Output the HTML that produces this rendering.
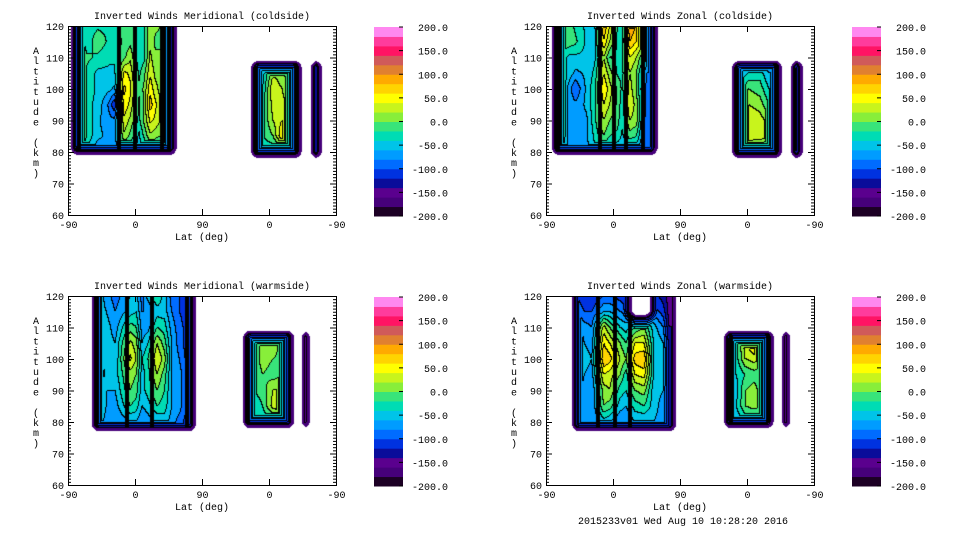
<!DOCTYPE html>
<html><head><meta charset="utf-8">
<style>
html,body{margin:0;padding:0;background:#fff;}
#wrap{position:relative;width:960px;height:540px;overflow:hidden;background:#fff;}
canvas{position:absolute;}
svg{position:absolute;left:0;top:0;}
text{font-family:"Liberation Mono",monospace;font-size:10px;fill:#000;}
</style></head>
<body>
<div id="wrap">
<canvas id="c1" width="268" height="189" style="left:68px;top:26px"></canvas>
<canvas id="c2" width="268" height="189" style="left:546px;top:26px"></canvas>
<canvas id="c3" width="268" height="189" style="left:68px;top:296px"></canvas>
<canvas id="c4" width="268" height="189" style="left:546px;top:296px"></canvas>
<svg id="ov" width="960" height="540"></svg>
</div>
<script>
// ---- data ----
const levelColors = ["#1c0024","#46007a","#5a008e","#0a0c9a","#0032e0","#006cff","#009cff","#00c4e8","#00dcb4","#38e47a","#88ee3a","#c8f41c","#ffff00","#ffd400","#ffaa00","#e08030","#d05a5a","#ff1464","#ff3c9c","#ff88f0"];
const cbarLabels = [200,150,100,50,0,-50,-100,-150,-200];
const xTickLabels = ["-90","0","90","0","-90"];
const yTickLabels = [120,110,100,90,80,70,60];
const panelTitles = ["Inverted Winds Meridional (coldside)","Inverted Winds Zonal (coldside)","Inverted Winds Meridional (warmside)","Inverted Winds Zonal (warmside)"];

const altsA = [80,85,90,95,100,105,110,115,120];
const altsB = [80,85,90,95,100,105,108];

// Panel 1
const p1A_cols = [4,10,20,26,40,56,63,76,84,96,103,111,118,131,141];
const p1A_stripes = [15,68,90,126,136];
const p1A_vals = [
[-45,-35,-25,-25,-25,-35,-35,-35,-35],
[-25,-5,-5,-15,-15,-15,-15,-25,-25],
[-15,15,35,45,60,35,5,-15,-15],
[-45,-25,-25,-35,-25,-25,-15,-35,-35],
[-75,-55,-55,-45,-45,-45,-25,-5,-25],
[-75,-65,-75,-85,-55,-45,-35,-25,-25],
[-85,-65,-75,-120,-65,-45,-35,-35,-35],
[-25,15,35,55,65,45,-5,-15,-5],
[-45,-5,15,35,45,35,15,-5,-15],
[-45,-45,-25,-25,-15,-25,-35,-35,-25],
[-45,-15,5,5,5,-5,-25,-25,-25],
[-25,15,45,70,55,35,25,15,15],
[-25,5,35,45,25,15,5,-5,5],
[-45,-5,5,-5,5,15,5,-5,-5],
[-100,-90,-80,-80,-80,-80,-80,-80,-80]];
const p1B_cols = [262,276,288,298];
const p1B_stripes = [253,307];
const p1B_vals = [
[-40,-20,-20,-30,-40,-50,-80],
[-40,0,20,30,40,20,-40],
[-30,60,40,30,20,0,-40],
[-40,60,20,10,0,-10,-40]];
const p1C_cols = [328,339];
const p1C_stripes = [];
const p1C_vals = [[-115,-115,-115,-115,-115,-115,-115],[-115,-115,-115,-115,-115,-115,-115]];

// Panel 2
const p2A_cols = [10,21,30,40,55,66,78,86,97,103,113,122,136,144];
const p2A_stripes = [16,72,91,107,130];
const p2A_vals = [
[-45,-45,-45,-45,-45,-45,-45,-45,-45],
[-25,-5,5,5,-5,-5,-15,-5,-15],
[-65,-65,-65,-65,-65,-45,-45,-5,-5],
[-65,-65,-65,-75,-100,-65,-45,-15,-25],
[-65,-65,-65,-55,-55,-55,-45,-45,-45],
[-45,-35,-25,-25,-25,-35,-45,-45,-45],
[-40,0,20,40,60,40,20,60,80],
[-60,-20,0,20,30,10,-20,20,40],
[-65,-25,-15,-5,-5,-25,-25,-25,-25],
[-65,-45,-35,-35,-25,-25,-25,-25,-35],
[-60,-10,20,40,30,20,40,80,100],
[-60,-20,10,10,0,0,20,60,80],
[-100,-100,-100,-90,-90,-80,-40,20,40],
[-100,-100,-100,-100,-90,-80,-40,20,40]];
const p2B_cols = [258,272,288,300];
const p2B_stripes = [255,310];
const p2B_vals = [
[-30,20,20,0,-40,-60,-80],
[-30,40,40,20,0,-40,-60],
[-40,40,30,10,-10,-30,-60],
[-80,30,10,-20,-40,-60,-80]];
const p2C_cols = [331,343];
const p2C_stripes = [];
const p2C_vals = [[-115,-105,-115,-105,-115,-105,-115],[-115,-105,-115,-105,-115,-105,-115]];

// Panel 3
const p3A_cols = [33,44,52,64,84,92,100,108,120,130,140,150,166];
const p3A_stripes = [38,79,113,160];
const p3A_vals = [
[-90,-90,-90,-90,-90,-90,-90,-90,-90],
[-50,-40,-30,-20,-30,-40,-50,-50,-50],
[-70,-60,-60,-50,-50,-50,-50,-60,-70],
[-80,-70,-60,-50,-60,-60,-70,-80,-90],
[-60,-20,0,10,45,25,-10,-50,-60],
[-60,-30,-10,0,20,10,-20,-40,-50],
[-80,-60,-50,-50,-40,-60,-70,-80,-90],
[-70,-50,-30,-30,-20,-40,-70,-80,-50],
[-60,-20,0,20,40,20,-20,-50,-20],
[-50,-30,-20,-10,10,-10,-30,-50,-50],
[-70,-60,-60,-60,-60,-60,-70,-80,-90],
[-90,-70,-70,-70,-80,-90,-90,-100,-100],
[-120,-120,-120,-120,-120,-120,-120,-120,-120]];
const p3B_cols = [248,262,276,290];
const p3B_stripes = [240,299];
const p3B_vals = [
[-40,-40,-20,-20,-20,-40,-60],
[-40,-20,-10,0,10,20,-60],
[-30,30,20,-10,0,20,-60],
[-20,40,20,0,-10,-20,-60]];
const p3C_cols = [316,323];
const p3C_stripes = [];
const p3C_vals = [[-115,-115,-115,-115,-115,-115,-115],[-115,-115,-115,-115,-115,-115,-115]];

// Panel 4
const p4A_cols = [42,52,62,78,86,100,108,120,132,145,158,166];
const p4A_stripes = [38,70,93,113];
const p4A_vals = [
[-50,-50,-40,-40,-30,-30,-50,-80,-100],
[-80,-80,-70,-60,-50,-60,-70,-100,-120],
[-80,-80,-80,-70,-60,-70,-80,-100,-120],
[-50,0,10,40,80,60,30,-60,-100],
[-60,-10,20,30,70,40,0,-60,-100],
[-80,-50,-30,0,20,0,-40,-80,-110],
[-80,-60,-40,-30,0,-20,-50,-90,-120],
[-60,-30,0,40,70,40,-20,-100,-140],
[-60,-20,10,50,80,40,0,-80,-120],
[-60,-50,-50,-40,-40,-40,-50,-90,-110],
[-70,-70,-60,-50,-50,-60,-80,-110,-130],
[-130,-130,-130,-130,-130,-130,-140,-150,-150]];
const p4B_cols = [256,268,280,290];
const p4B_stripes = [248,298];
const p4B_vals = [
[-60,-40,-50,-40,-30,-30,-60],
[-40,0,0,-20,20,30,-40],
[-40,10,10,-10,30,70,-30],
[-40,0,-10,-20,20,40,-40]];
const p4C_cols = [319,326];
const p4C_stripes = [];
const p4C_vals = [[-115,-115,-115,-115,-115,-115,-115],[-115,-115,-115,-115,-115,-115,-115]];

const panels = [
 {id:"c1", regions:[
  {u0:4,u1:146,a0:79,a1:126,cols:p1A_cols,alts:altsA,vals:p1A_vals,stripes:p1A_stripes,holes:[]},
  {u0:246,u1:314,a0:78,a1:109,cols:p1B_cols,alts:altsB,vals:p1B_vals,stripes:p1B_stripes,holes:[]},
  {u0:326,u1:341,a0:78,a1:109,cols:p1C_cols,alts:altsB,vals:p1C_vals,stripes:p1C_stripes,holes:[]}]},
 {id:"c2", regions:[
  {u0:8,u1:150,a0:79,a1:126,cols:p2A_cols,alts:altsA,vals:p2A_vals,stripes:p2A_stripes,holes:[]},
  {u0:250,u1:317,a0:78,a1:109,cols:p2B_cols,alts:altsB,vals:p2B_vals,stripes:p2B_stripes,holes:[]},
  {u0:329,u1:345,a0:78,a1:109,cols:p2C_cols,alts:altsB,vals:p2C_vals,stripes:p2C_stripes,holes:[]}]},
 {id:"c3", regions:[
  {u0:32,u1:172,a0:77,a1:126,cols:p3A_cols,alts:altsA,vals:p3A_vals,stripes:p3A_stripes,holes:[]},
  {u0:235,u1:304,a0:78,a1:109,cols:p3B_cols,alts:altsB,vals:p3B_vals,stripes:p3B_stripes,holes:[]},
  {u0:314,u1:325,a0:78,a1:109,cols:p3C_cols,alts:altsB,vals:p3C_vals,stripes:p3C_stripes,holes:[]}]},
 {id:"c4", regions:[
  {u0:35,u1:175,a0:77,a1:126,cols:p4A_cols,alts:altsA,vals:p4A_vals,stripes:p4A_stripes,holes:[{u0:115,u1:140,a0:114,a1:132}]},
  {u0:239,u1:306,a0:78,a1:109,cols:p4B_cols,alts:altsB,vals:p4B_vals,stripes:p4B_stripes,holes:[]},
  {u0:317,u1:328,a0:78,a1:109,cols:p4C_cols,alts:altsB,vals:p4C_vals,stripes:p4C_stripes,holes:[]}]}
];

// ---- scales ----
const W=268,H=189;
function xPx(u){return u/360*W;}
function yPx(a){return (120-a)/60*H;}
function sdRect(px,py,x0,y0,x1,y1,r){
  const cx=(x0+x1)/2,cy=(y0+y1)/2,hx=(x1-x0)/2,hy=(y1-y0)/2;
  const qx=Math.abs(px-cx)-hx+r,qy=Math.abs(py-cy)-hy+r;
  return Math.hypot(Math.max(qx,0),Math.max(qy,0))+Math.min(Math.max(qx,qy),0)-r;
}
function lerpIdx(arr,v){
  const n=arr.length;
  if(v<=arr[0])return [0,0,0];
  if(v>=arr[n-1])return [n-1,n-1,0];
  for(let i=0;i<n-1;i++){if(v>=arr[i]&&v<=arr[i+1])return [i,i+1,(v-arr[i])/(arr[i+1]-arr[i])];}
  return [0,0,0];
}
function sample(reg,u,a){
  const [i0,i1,tu]=lerpIdx(reg.cols,u),[j0,j1,ta]=lerpIdx(reg.alts,a);
  const v=reg.vals;
  const top=v[i0][j0]*(1-tu)+v[i1][j0]*tu, bot=v[i0][j1]*(1-tu)+v[i1][j1]*tu;
  return top*(1-ta)+bot*ta;
}
function hex(c){return [parseInt(c.slice(1,3),16),parseInt(c.slice(3,5),16),parseInt(c.slice(5,7),16)];}
const rgb=levelColors.map(hex);

panels.forEach(p=>{
  const cv=document.getElementById(p.id),ctx=cv.getContext('2d');
  const bins=new Int16Array(W*H).fill(-1);
  const dark=new Uint8Array(W*H);
  for(let py=0;py<H;py++)for(let px=0;px<W;px++){
    const x=px+0.5,y=py+0.5,u=x/W*360,a=120-y/H*60;
    for(const reg of p.regions){
      let d=-sdRect(x,y,xPx(reg.u0),yPx(reg.a1),xPx(reg.u1),yPx(reg.a0),8);
      if(d<0)continue;
      let hole=false;
      for(const h of reg.holes){const dh=sdRect(x,y,xPx(h.u0),yPx(h.a1),xPx(h.u1),yPx(h.a0),6);if(dh<0){hole=true;break;}d=Math.min(d,dh);}
      if(hole)break;
      let v=sample(reg,u,a);
      if(d<3)v=-170;else v=Math.min(v,-150+(d-3)*12);
      let b=Math.floor((v+200)/20);b=Math.max(0,Math.min(19,b));
      bins[py*W+px]=b;
      if(d>4){for(const s of reg.stripes){if(Math.abs(x-xPx(s))<2.0){dark[py*W+px]=1;break;}}}
      break;
    }
  }
  const img=ctx.createImageData(W,H);
  for(let py=0;py<H;py++)for(let px=0;px<W;px++){
    const k=py*W+px,b=bins[k],o=k*4;
    if(b<0){img.data[o]=255;img.data[o+1]=255;img.data[o+2]=255;img.data[o+3]=255;continue;}
    let line=dark[k]===1;
    if(px<W-1&&bins[k+1]>=0&&bins[k+1]!==b)line=true;
    if(py<H-1&&bins[k+W]>=0&&bins[k+W]!==b)line=true;
    const c=line?[0,0,0]:rgb[b];
    img.data[o]=c[0];img.data[o+1]=c[1];img.data[o+2]=c[2];img.data[o+3]=255;
  }
  ctx.putImageData(img,0,0);
});

// ---- axes overlay ----
const NS="http://www.w3.org/2000/svg",svg=document.getElementById('ov');
function el(tag,attrs,parent,txt){const e=document.createElementNS(NS,tag);for(const k in attrs)e.setAttribute(k,attrs[k]);if(txt!==undefined)e.textContent=txt;(parent||svg).appendChild(e);return e;}
const origins=[[68,26],[546,26],[68,296],[546,296]];
origins.forEach((o,pi)=>{
  const [X,Y]=o;
  const g=el('g',{});
  
  
  const t=el('text',{x:X+W/2,y:Y-7,'text-anchor':'middle'},g,panelTitles[pi]);
  
  
  const box=el('rect',{x:X+0.5,y:Y+0.5,width:W,height:H,fill:'none',stroke:'#000','stroke-width':1},g);
  
  
  for(let a=60;a<=120;a++){
    const y=Y+yPx(a)+0.5,len=(a%10===0)?6:3;
    el('line',{x1:X,y1:y,x2:X+len,y2:y,stroke:'#000'},g);
    el('line',{x1:X+W,y1:y,x2:X+W-len,y2:y,stroke:'#000'},g);
  }
  yTickLabels.forEach(a=>{
    const tl=el('text',{x:X-4,y:Y+yPx(a)+4,'text-anchor':'end'},g,String(a));
    
    
  });
  xTickLabels.forEach((s,i)=>{
    const x=X+xPx(i*90)+0.5;
    el('line',{x1:x,y1:Y+H,x2:x,y2:Y+H-6,stroke:'#000'},g);
    el('line',{x1:x,y1:Y,x2:x,y2:Y+6,stroke:'#000'},g);
    const tl=el('text',{x:x,y:Y+H+13,'text-anchor':'middle'},g,s);
    
    
  });
  const xt=el('text',{x:X+W/2,y:Y+H+25,'text-anchor':'middle'},g,'Lat (deg)');
  
  
  const yt=el('text',{x:X-32,y:Y+24,'text-anchor':'middle'},g);
  
  
  "Altitude (km)".split('').forEach((ch,i)=>{el('tspan',{x:X-32,y:Y+28+i*10.2},yt,ch);});
  const cb=el('g',{},g);
  
  
  const cx=X+306,cy=Y+1,ch=189,bh=ch/levelColors.length;
  levelColors.forEach((c,i)=>{
    el('rect',{x:cx,y:cy+ch-(i+1)*bh,width:29,height:bh+0.5,fill:c},cb);
  });
  cbarLabels.forEach(v=>{
    const y=cy+(200-v)/400*ch;
    el('line',{x1:cx+29,y1:y,x2:cx+25,y2:y,stroke:'#000'},cb);
    const tl=el('text',{x:cx+74,y:y+4,'text-anchor':'end'},cb,v.toFixed(1));
    
    
  });
});
const ts=el('text',{x:683,y:524,'text-anchor':'middle'},svg,'2015233v01 Wed Aug 10 10:28:20 2016');


</script>
</body></html>
